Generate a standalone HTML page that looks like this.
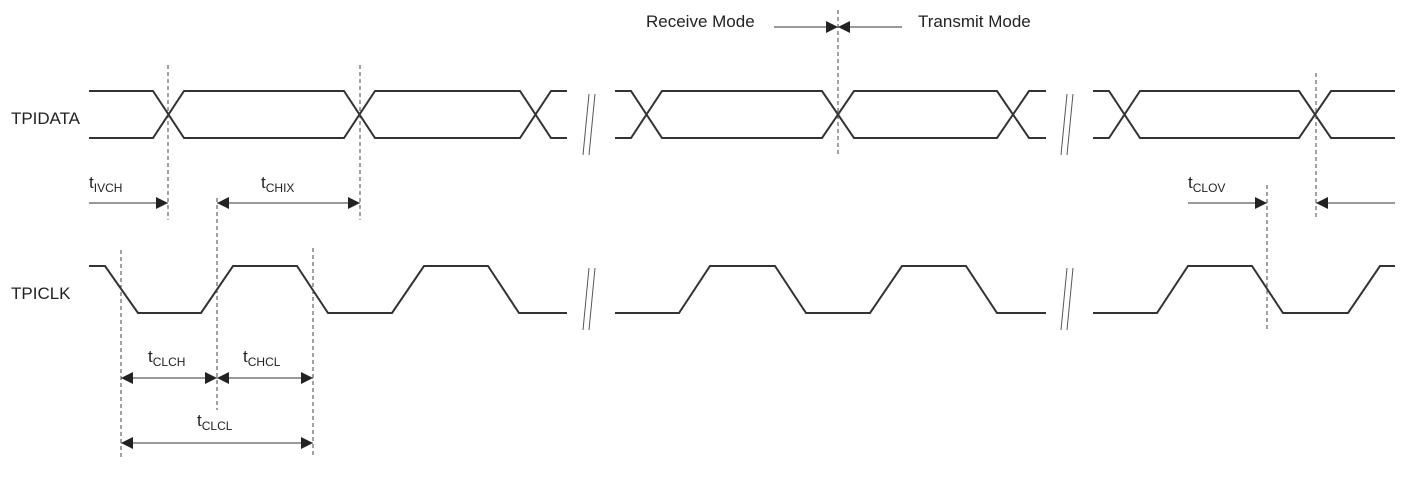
<!DOCTYPE html>
<html><head><meta charset="utf-8"><style>
html,body{margin:0;padding:0;background:#fff}
svg{display:block}
text{font-family:"Liberation Sans",Arial,sans-serif;fill:#222}
</style></head><body>
<svg width="1409" height="483" viewBox="0 0 1409 483" xmlns="http://www.w3.org/2000/svg">
<defs>
<marker id="a" viewBox="0 0 10 10" refX="10" refY="5" markerWidth="14" markerHeight="12" markerUnits="userSpaceOnUse" orient="auto-start-reverse"><path d="M0,0L10,5L0,10z" fill="#222"/></marker>
</defs>
<g fill="none" stroke="#333" stroke-width="2">
<path d="M89,91H153L184,138H344L375,91H520L551,138H567"/>
<path d="M89,138H153L184,91H344L375,138H520L551,91H567"/>
<path d="M615,91H631L662,138H822L854,91H997L1029,138H1046"/>
<path d="M615,138H631L662,91H822L854,138H997L1029,91H1046"/>
<path d="M1093,91H1109L1140,138H1299L1331,91H1395"/>
<path d="M1093,138H1109L1140,91H1299L1331,138H1395"/>
<path d="M89,266H105L138,313H201L233,266H297L328,313H392L424,266H488L519,313H567"/>
<path d="M615,313H679L710,266H775L806,313H870L902,266H966L997,313H1046"/>
<path d="M1093,313H1157L1188,266H1252L1283,313H1348L1380,266H1395"/>
</g>
<g stroke="#555" stroke-width="1" fill="none">
<path d="M583,155L589,94M589,155L595,94M1061,155L1067,94M1067,155L1073,94"/>
<path d="M583,330L589,268M589,330L595,268M1061,330L1067,268M1067,330L1073,268"/>
</g>
<g stroke="#444" stroke-width="1" stroke-dasharray="4,3">
<path d="M168,65V220M360,65V220M838,10V155M1316,73V218M1267,185V330M121,250V458M217,198V410M313,248V458"/>
</g>
<g stroke="#333" stroke-width="1" fill="none">
<line x1="89" y1="203" x2="168" y2="203" marker-end="url(#a)"/>
<line x1="217" y1="203" x2="360" y2="203" marker-start="url(#a)" marker-end="url(#a)"/>
<line x1="1188" y1="203" x2="1267" y2="203" marker-end="url(#a)"/>
<line x1="1395" y1="203" x2="1316" y2="203" marker-end="url(#a)"/>
<line x1="121" y1="378" x2="217" y2="378" marker-start="url(#a)" marker-end="url(#a)"/>
<line x1="217" y1="378" x2="313" y2="378" marker-start="url(#a)" marker-end="url(#a)"/>
<line x1="121" y1="443" x2="313" y2="443" marker-start="url(#a)" marker-end="url(#a)"/>
<line x1="774" y1="27" x2="838" y2="27" marker-end="url(#a)"/>
<line x1="902" y1="27" x2="838" y2="27" marker-end="url(#a)"/>
</g>
<g font-size="17">
<text x="646" y="27">Receive Mode</text>
<text x="918" y="27">Transmit Mode</text>
<text x="11" y="124" textLength="69">TPIDATA</text>
<text x="11" y="299">TPICLK</text>
<text x="89" y="188">t<tspan font-size="12" dy="4">IVCH</tspan></text>
<text x="261" y="188">t<tspan font-size="12" dy="4">CHIX</tspan></text>
<text x="1188" y="188">t<tspan font-size="12" dy="4">CLOV</tspan></text>
<text x="148" y="362">t<tspan font-size="12" dy="4">CLCH</tspan></text>
<text x="243" y="362">t<tspan font-size="12" dy="4">CHCL</tspan></text>
<text x="197" y="426">t<tspan font-size="12" dy="4">CLCL</tspan></text>
</g>
</svg>
</body></html>
